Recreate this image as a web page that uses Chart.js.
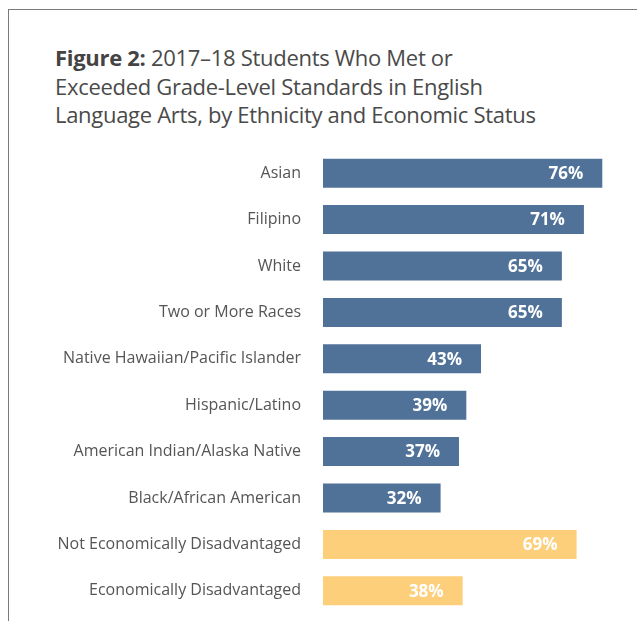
<!DOCTYPE html>
<html>
<head>
<meta charset="utf-8">
<script src="https://cdn.jsdelivr.net/npm/chart.js@4"></script>
<style>
  html, body { margin: 0; padding: 0; background: #fff; }
  #wrap { position: relative; width: 637px; height: 621px; overflow: hidden; }
  #frame { position: absolute; left: 8px; top: 9px; width: 640px; height: 620px;
           border-left: 1.5px solid #7a7a7a; border-top: 1.5px solid #7a7a7a; }
  #title { position: absolute; left: 55px; top: 43px; font-family: "Open Sans", sans-serif;
           font-size: 22px; line-height: 28.5px; color: #4a4a4a; letter-spacing: -0.3px; }
  #title b { color: #444; }
  #chart { position: absolute; left: 0; top: 0; }
</style>
</head>
<body>
<div id="wrap">
  <div id="frame"></div>
  <div id="title"><b>Figure 2:</b> 2017–18 Students Who Met or<br>Exceeded Grade-Level Standards in English<br>Language Arts, by Ethnicity and Economic Status</div>
  <canvas id="chart" width="637" height="621"></canvas>
</div>
<script>
var groups = ["Asian", "Filipino", "White", "Two or More Races", "Native Hawaiian/Pacific Islander",
  "Hispanic/Latino", "American Indian/Alaska Native", "Black/African American",
  "Not Economically Disadvantaged", "Economically Disadvantaged"];
var percents = [76, 71, 65, 65, 43, 39, 37, 32, 69, 38];
var blue = "#507298";
var yellow = "#FECF7A";
var barColors = percents.map(function (d, i) { return i < 8 ? blue : yellow });

// write the value inside the end of each bar
var valueLabels = {
  id: "valueLabels",
  afterDatasetsDraw: function (chart) {
    var ctx = chart.ctx;
    var meta = chart.getDatasetMeta(0);
    ctx.save();
    ctx.font = "bold 17px 'Open Sans', sans-serif";
    ctx.fillStyle = "#fff";
    ctx.textAlign = "right";
    ctx.textBaseline = "middle";
    meta.data.forEach(function (bar, i) {
      ctx.fillText(percents[i] + "%", bar.x - 19, bar.y + 1);
    });
    ctx.restore();
  }
};

var chart = new Chart("chart", {
  type: "bar",
  data: {
    labels: groups,
    datasets: [{
      data: percents,
      backgroundColor: barColors,
      barPercentage: 0.625,
      categoryPercentage: 1
    }]
  },
  options: {
    indexAxis: "y",
    responsive: false,
    animation: false,
    layout: { padding: { top: 150, bottom: 7, right: 20, left: 0 } },
    plugins: { legend: { display: false }, tooltip: { enabled: false } },
    scales: {
      x: { display: false, min: 0, max: 80 },
      y: {
        afterFit: function (scale) {
          scale.width = 323;
          // the tick padding should not eat into the plot height
          scale.paddingTop = 0;
          scale.paddingBottom = 0;
        },
        grid: { display: false, drawTicks: false },
        border: { display: false },
        ticks: {
          padding: 22,
          color: "#555",
          font: { family: "'Open Sans', sans-serif", size: 16 }
        }
      }
    }
  },
  plugins: [valueLabels]
});
</script>
</body>
</html>
